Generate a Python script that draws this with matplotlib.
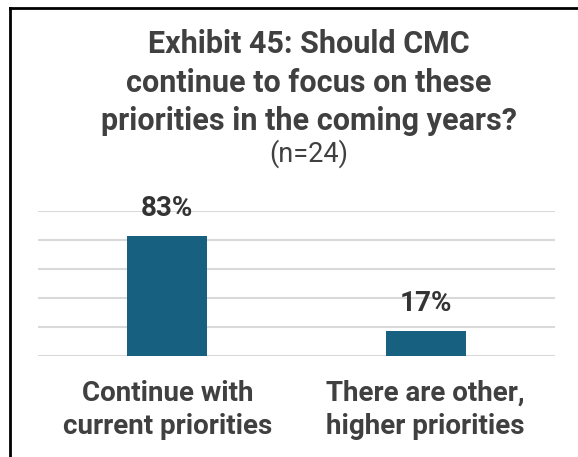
import matplotlib.pyplot as plt
from matplotlib.lines import Line2D

categories = ["Continue with\ncurrent priorities", "There are other,\nhigher priorities"]
shares = [83, 17]
value_labels = ["83%", "17%"]

TITLE = "Exhibit 45: Should CMC\ncontinue to focus on these\npriorities in the coming years?"
SUBTITLE = "(n=24)"

BAR_COLOR = "#17607f"
TEXT_COLOR = "#404040"
GRID_COLOR = "#d9d9d9"

W, H = 578, 457
TITLE_X = 309 / W

plt.rcParams["font.family"] = ["Roboto", "DejaVu Sans"]

fig = plt.figure(figsize=(W / 100, H / 100), dpi=100)
ax = fig.add_axes([38 / W, 1 - 356 / H, 517 / W, 145 / H])

x = range(len(categories))
ax.bar(x, shares, width=0.31, color=BAR_COLOR, zorder=3)
ax.set_xlim(-0.5, 1.5)
ax.set_ylim(0, 100)
ax.set_yticks(range(0, 101, 20))
ax.yaxis.grid(True, color=GRID_COLOR, linewidth=1.5, zorder=0)
ax.tick_params(left=False, bottom=False, labelleft=False, labelbottom=False)
for s in ax.spines.values():
    s.set_visible(False)

for xi, v, lab in zip(x, shares, value_labels):
    ax.annotate(lab, xy=(xi, v), xytext=(0, 20), textcoords="offset pixels",
                ha="center", va="baseline", fontsize=20, fontweight="bold",
                color="#333333")

# category names, one line at a time below the baseline
for xi, cat in zip(x, categories):
    for i, line in enumerate(cat.split("\n")):
        ax.annotate(line, xy=(xi, 0), xytext=(0, -45 - 33 * i),
                    textcoords="offset pixels", ha="center", va="baseline",
                    fontsize=20, fontweight="bold", color=TEXT_COLOR)

for i, line in enumerate(TITLE.split("\n")):
    fig.text(TITLE_X, 1 - (53 + 38.5 * i) / H, line, ha="center", va="baseline",
             fontsize=22, fontweight="bold", color=TEXT_COLOR)
fig.text(TITLE_X, 1 - 162 / H, SUBTITLE, ha="center", va="baseline",
         fontsize=19.5, color=TEXT_COLOR)

# frame: top and left edges only
fig.add_artist(Line2D([10 / W, 1], [1 - 8 / H, 1 - 8 / H],
                      transform=fig.transFigure, color="black", linewidth=2))
fig.add_artist(Line2D([10 / W, 10 / W], [0, 1 - 8 / H],
                      transform=fig.transFigure, color="black", linewidth=2))

fig.savefig("out.png", dpi=100)
